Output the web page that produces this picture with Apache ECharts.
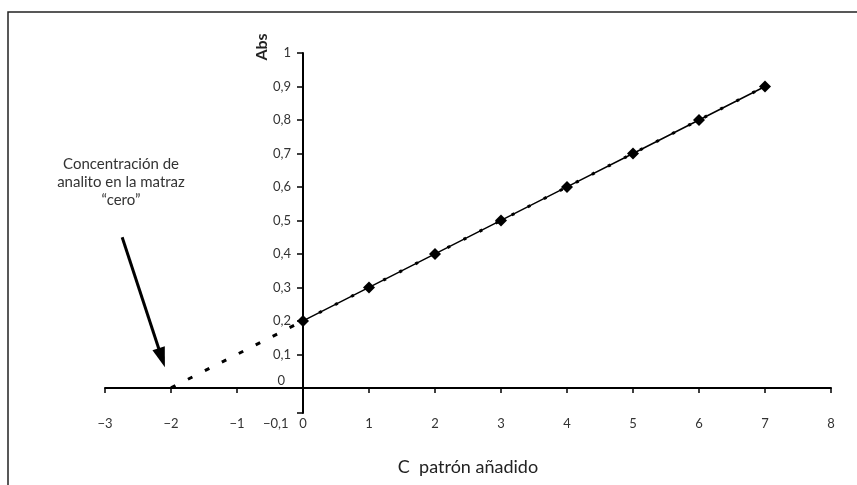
<!DOCTYPE html>
<html>
<head>
<meta charset="utf-8">
<script src="https://cdn.jsdelivr.net/npm/echarts@6/dist/echarts.min.js"></script>
<style>
  html, body { margin: 0; padding: 0; background: #fff; }
  #chart { width: 857px; height: 485px; }
</style>
</head>
<body>
<div id="chart"></div>
<script>
// datos de la adición de patrón
const cPatron = [0, 1, 2, 3, 4, 5, 6, 7];
const abs = [0.2, 0.3, 0.4, 0.5, 0.6, 0.7, 0.8, 0.9];
// extrapolación hasta Abs = 0
const extrapX = [-2, 0];
const extrapY = [0, 0.2];
const yTicks = [-0.075, 0, 0.1, 0.2, 0.3, 0.4, 0.5, 0.6, 0.7, 0.8, 0.9, 1];
const yLabels = [0, 0.1, 0.2, 0.3, 0.4, 0.5, 0.6, 0.7, 0.8, 0.9, 1];

const font = 'Lato, "Open Sans", sans-serif';
const chart = echarts.init(document.getElementById('chart'));

const puntos = cPatron.map((c, i) => [c, abs[i]]);
const extrap = extrapX.map((c, i) => [c, extrapY[i]]);
const tendencia = [puntos[0], puntos[puntos.length - 1]];

// ejes cruzan en (0,0): se desplazan hacia dentro del grid
const gridLeft = 105, gridRight = 26, gridTop = 53, gridBottom = 72;
const plotW = 857 - gridLeft - gridRight;
const plotH = 485 - gridTop - gridBottom;
const yOffset = -plotW * 3 / 11;          // x = 0 dentro de [-3, 8]
const xOffset = -plotH * 0.075 / 1.075;   // y = 0 dentro de [-0.075, 1]

chart.setOption({
  backgroundColor: '#fff',
  animation: false,
  grid: { left: gridLeft, right: gridRight, top: gridTop, bottom: gridBottom, outerBoundsMode: 'none' },
  xAxis: {
    type: 'value',
    min: -3, max: 8, interval: 1,
    position: 'bottom',
    offset: xOffset,
    name: 'C  patrón añadido',
    nameLocation: 'middle',
    nameGap: 70,
    nameTextStyle: { fontFamily: font, fontSize: 18, color: '#222' },
    axisLine: { onZero: false, lineStyle: { color: '#000', width: 2 } },
    axisTick: { length: 5, lineStyle: { color: '#000', width: 1.5 } },
    splitLine: { show: false },
    axisLabel: {
      margin: 29,
      fontFamily: font, fontSize: 13, color: '#333',
      formatter: function (v) {
        if (v === 0) return '{a|−0,1}{b|0}{c|}';
        return v < 0 ? '−' + Math.abs(v) : String(v);
      },
      rich: {
        a: { fontFamily: font, fontSize: 13, color: '#333', width: 36, align: 'left' },
        b: { fontFamily: font, fontSize: 13, color: '#333', width: 8, align: 'center' },
        c: { width: 36 }
      }
    }
  },
  yAxis: {
    type: 'value',
    min: -0.075, max: 1,
    position: 'left',
    offset: yOffset,
    axisLine: { onZero: false, lineStyle: { color: '#000', width: 2 } },
    axisTick: { length: 6, customValues: yTicks, lineStyle: { color: '#000', width: 1.5 } },
    splitLine: { show: false },
    axisLabel: {
      margin: 12,
      customValues: yLabels,
      fontFamily: font, fontSize: 13, color: '#333',
      formatter: function (v) {
        if (v === 0) return '{z|0}';
        if (v === 1) return '1';
        return v.toFixed(1).replace('.', ',');
      },
      rich: {
        z: { fontFamily: font, fontSize: 13, color: '#333', padding: [0, 6, 14, 0] }
      }
    }
  },
  graphic: [
    {
      type: 'rect',
      shape: { x: 8, y: 12, width: 880, height: 500 },
      style: { fill: 'none', stroke: '#222', lineWidth: 1.5 },
      silent: true
    },
    {
      type: 'text',
      x: 262, y: 47,
      rotation: Math.PI / 2,
      style: {
        text: 'Abs', fontFamily: font, fontSize: 16, fontWeight: 'bold',
        fill: '#222', align: 'center', verticalAlign: 'middle'
      }
    },
    {
      type: 'text',
      x: 121, y: 182,
      style: {
        text: 'Concentración de\nanalito en la matraz\n“cero”',
        fontFamily: font, fontSize: 15, fill: '#333', lineHeight: 18,
        align: 'center', verticalAlign: 'middle'
      }
    }
  ],
  series: [
    {
      name: 'extrapolación',
      type: 'line',
      data: extrap,
      symbol: 'none',
      lineStyle: { color: '#000', width: 3, type: [5, 14] },
      markLine: {
        silent: true,
        symbol: ['none', 'triangle'],
        symbolSize: [13, 20],
        label: { show: false },
        lineStyle: { color: '#000', width: 3, type: 'solid' },
        data: [[{ coord: [-2.74, 0.45] }, { coord: [-2.14, 0.09] }]]
      }
    },
    {
      name: 'Abs',
      type: 'line',
      data: puntos,
      symbol: 'diamond',
      symbolSize: 12,
      itemStyle: { color: '#000' },
      lineStyle: { color: '#000', width: 1.5 }
    },
    {
      name: 'tendencia',
      type: 'line',
      data: tendencia,
      symbol: 'none',
      lineStyle: { color: '#000', width: 3, type: [3, 15] }
    }
  ]
});
</script>
</body>
</html>
